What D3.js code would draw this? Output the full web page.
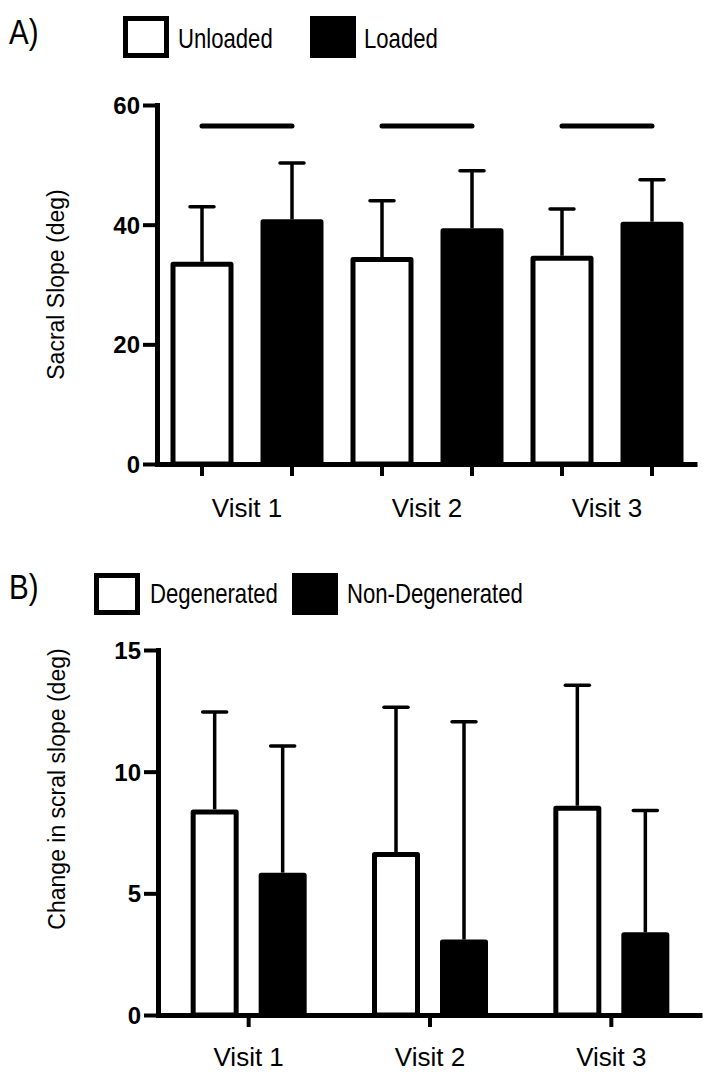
<!DOCTYPE html>
<html>
<head>
<meta charset="utf-8">
<script src="https://cdn.jsdelivr.net/npm/d3@7"></script>
<style>
body { margin:0; background:#fff; }
svg text { font-family: "Liberation Sans", Arial, Helvetica, sans-serif; fill:#000; }
</style>
</head>
<body>
<div id="figure"></div>
<script>
// ---- panel A : sacral slope, unloaded vs loaded ----
const visits = ["Visit 1", "Visit 2", "Visit 3"]
const loadGroups = ["Unloaded", "Loaded"]
const unloadedMean = [33.8, 34.6, 34.8]
const unloadedSD = [9.2, 9.4, 7.8]
const loadedMean = [40.9, 39.4, 40.5]
const loadedSD = [9.4, 9.6, 7.0]
const sigLevel = [56.5, 56.5, 56.5]   // horizontal bars over each visit
const yTicksA = [0, 20, 40, 60]

// ---- panel B : change in sacral slope, degenerated vs non-degenerated ----
const degGroups = ["Degenerated", "Non-Degenerated"]
const degMean = [8.45, 6.7, 8.6]
const degSD = [4.0, 5.95, 4.95]
const nonDegMean = [5.85, 3.1, 3.4]
const nonDegSD = [5.2, 8.95, 5.0]
const yTicksB = [0, 5, 10, 15]

const width = 717
const height = 1072
const barStroke = 5
const errStroke = 3.5
const capW = 24
const narrow = 0.82   // legend text is a condensed face in the original

let svg = d3.select("#figure").append("svg")
    .attr("width", width)
    .attr("height", height)

function makeRows(groups, means, sds) {
    let rows = []
    visits.forEach((v, i) => {
        groups.forEach((g, j) => {
            rows.push({ visit: v, group: g, idx: j, mean: means[j][i], sd: sds[j][i] })
        })
    })
    return rows
}

function drawBars(g, rows, x, xOff, y, barW) {
    // bars (outer edge of the stroke matches the value)
    g.selectAll("rect.bar")
        .data(rows)
        .join("rect")
        .attr("class", "bar")
        .attr("x", d => x(d.visit) + x.bandwidth() / 2 + xOff(d.group) - barW / 2 + barStroke / 2)
        .attr("width", barW - barStroke)
        .attr("y", d => y(d.mean) + barStroke / 2)
        .attr("height", d => y(0) - y(d.mean) - barStroke / 2)
        .attr("fill", d => d.idx === 0 ? "#fff" : "#000")
        .attr("stroke", "#000")
        .attr("stroke-width", barStroke)
        .attr("stroke-linejoin", "round")

    // error bars, upper side only
    let err = g.selectAll("g.err")
        .data(rows)
        .join("g")
        .attr("class", "err")
        .attr("transform", d => `translate(${x(d.visit) + x.bandwidth() / 2 + xOff(d.group)},0)`)
    err.append("line")
        .attr("y1", d => y(d.mean))
        .attr("y2", d => y(d.mean + d.sd))
        .attr("stroke", "#000")
        .attr("stroke-width", errStroke)
    err.append("line")
        .attr("x1", -capW / 2)
        .attr("x2", capW / 2)
        .attr("y1", d => y(d.mean + d.sd))
        .attr("y2", d => y(d.mean + d.sd))
        .attr("stroke", "#000")
        .attr("stroke-width", errStroke)
        .attr("stroke-linecap", "round")
}

function drawYAxis(g, y, ticks, left) {
    let ax = d3.axisLeft(y).tickValues(ticks).tickSize(14).tickSizeOuter(0).tickPadding(3)
    let axG = g.append("g")
        .attr("transform", `translate(${left},0)`)
        .call(ax)
    axG.select(".domain").attr("stroke-width", barStroke).attr("stroke-linecap", "square")
    axG.selectAll(".tick line").attr("stroke-width", 4)
    axG.selectAll(".tick text")
        .attr("font-size", "24px")
        .attr("font-weight", "bold")
        .attr("font-family", "Liberation Sans, Arial, sans-serif")
        .attr("fill", "#000")
        .attr("dy", "0.36em")
}

function drawXAxis(g, scale, base) {
    let ax = d3.axisBottom(scale).tickSize(12).tickSizeOuter(0).tickFormat("")
    let axG = g.append("g")
        .attr("transform", `translate(0,${base})`)
        .call(ax)
    axG.select(".domain").attr("stroke-width", barStroke)
    axG.selectAll(".tick line").attr("stroke-width", 4)
}

function narrowText(g, x, y, size, txt) {
    return g.append("text")
        .attr("transform", `translate(${x},${y}) scale(${narrow},1)`)
        .attr("font-size", size)
        .text(txt)
}

function drawLegend(g, labels, boxX, textX, boxY, textY) {
    labels.forEach((lab, i) => {
        g.append("rect")
            .attr("x", boxX[i] + barStroke / 2)
            .attr("y", boxY + barStroke / 2)
            .attr("width", 46 - barStroke)
            .attr("height", 42 - barStroke)
            .attr("fill", i === 0 ? "#fff" : "#000")
            .attr("stroke", "#000")
            .attr("stroke-width", barStroke)
        narrowText(g, textX[i], textY, "27px", lab)
    })
}

// ================= panel A =================
let panelA = svg.append("g").attr("id", "panelA")

let yA = d3.scaleLinear().domain([0, 60]).range([464, 105])
let xA = d3.scaleBand().domain(visits).range([157, 697])
let offA = d3.scalePoint().domain(loadGroups).range([-45, 45])
let barIdsA = makeRows(loadGroups, [unloadedMean, loadedMean], [unloadedSD, loadedSD])
let xBarA = d3.scaleBand().domain(barIdsA.map(d => d.visit + "|" + d.group)).range([157, 697])

drawBars(panelA, barIdsA, xA, offA, yA, 63)

// significance lines between unloaded and loaded
panelA.selectAll("line.sig")
    .data(visits)
    .join("line")
    .attr("class", "sig")
    .attr("x1", d => xA(d) + xA.bandwidth() / 2 + offA("Unloaded"))
    .attr("x2", d => xA(d) + xA.bandwidth() / 2 + offA("Loaded"))
    .attr("y1", (d, i) => yA(sigLevel[i]))
    .attr("y2", (d, i) => yA(sigLevel[i]))
    .attr("stroke", "#000")
    .attr("stroke-width", 5)
    .attr("stroke-linecap", "round")

drawXAxis(panelA, xBarA, 464)
drawYAxis(panelA, yA, yTicksA, 157)

panelA.selectAll("text.xlab")
    .data(visits)
    .join("text")
    .attr("class", "xlab")
    .attr("x", d => xA(d) + xA.bandwidth() / 2)
    .attr("y", 517)
    .attr("text-anchor", "middle")
    .attr("font-size", "26px")
    .text(d => d)

panelA.append("text")
    .attr("transform", `translate(64,${(yA(0) + yA(60)) / 2}) rotate(-90)`)
    .attr("text-anchor", "middle")
    .attr("font-size", "23px")
    .text("Sacral Slope (deg)")

narrowText(panelA, 9, 44, "36px", "A)")
drawLegend(panelA, loadGroups, [123, 310], [178, 364], 16, 48)

// ================= panel B =================
let panelB = svg.append("g").attr("id", "panelB")

let yB = d3.scaleLinear().domain([0, 15]).range([1015, 650])
let xB = d3.scaleBand().domain(visits).range([158, 702])
let offB = d3.scalePoint().domain(degGroups).range([-34, 34])
let barIdsB = makeRows(degGroups, [degMean, nonDegMean], [degSD, nonDegSD])

drawBars(panelB, barIdsB, xB, offB, yB, 48)
drawXAxis(panelB, xB, 1015)
drawYAxis(panelB, yB, yTicksB, 158)

panelB.selectAll("text.xlab")
    .data(visits)
    .join("text")
    .attr("class", "xlab")
    .attr("x", d => xB(d) + xB.bandwidth() / 2)
    .attr("y", 1066)
    .attr("text-anchor", "middle")
    .attr("font-size", "26px")
    .text(d => d)

panelB.append("text")
    .attr("transform", `translate(65,789) rotate(-90)`)
    .attr("text-anchor", "middle")
    .attr("font-size", "23px")
    .text("Change in scral slope (deg)")

narrowText(panelB, 9, 599, "36px", "B)")
drawLegend(panelB, degGroups, [94, 292], [150, 347], 573, 603)
</script>
</body>
</html>
